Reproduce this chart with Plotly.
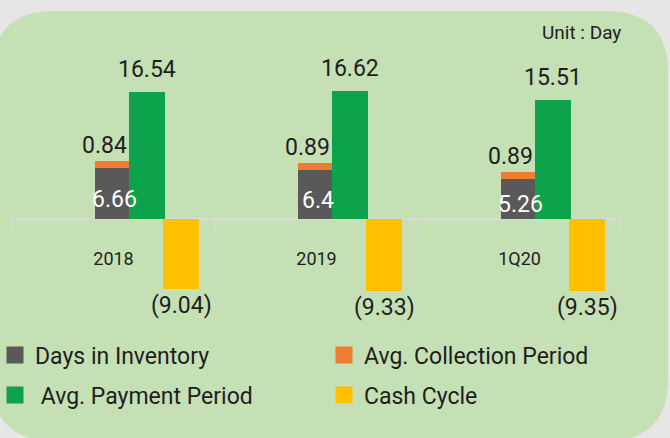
import plotly.graph_objects as go

categories = ['2018', '2019', '1Q20']
days_inventory = [6.66, 6.4, 5.26]
collection_period = [0.84, 0.89, 0.89]
payment_period = [16.54, 16.62, 15.51]
cash_cycle = [-9.04, -9.33, -9.35]

series_names = ['Days in Inventory', 'Avg. Collection Period', ' Avg. Payment Period', 'Cash Cycle']
series_colors = ['#595959', '#ed7d31', '#0ca34b', '#ffc000']
legend_ids = ['legend', 'legend', 'legend2', 'legend2']

W, H = 670, 438
FONT = 'Roboto, "Open Sans", sans-serif'
TXT = '#1e1e1e'

fig = go.Figure()
fig.add_bar(x=categories, y=days_inventory, name=series_names[0], showlegend=False,
            marker=dict(color=series_colors[0], line_width=0), width=0.168, offset=-0.091)
fig.add_bar(x=categories, y=collection_period, base=days_inventory, name=series_names[1],
            showlegend=False,
            marker=dict(color=series_colors[1], line_width=0), width=0.168, offset=-0.091)
fig.add_bar(x=categories, y=payment_period, name=series_names[2], showlegend=False,
            marker=dict(color=series_colors[2], line_width=0), width=0.177, offset=0.077)
fig.add_bar(x=categories, y=cash_cycle, name=series_names[3], showlegend=False,
            marker=dict(color=series_colors[3], line_width=0), width=0.177, offset=0.244)

# legend entries (bigger square swatches)
for nm, colr, lg in zip(series_names, series_colors, legend_ids):
    fig.add_bar(x=[None], y=[None], name=nm, legend=lg, hoverinfo='skip',
                marker=dict(color=colr, line=dict(color=colr, width=6)))


def fmt(v):
    return f'({abs(v):.2f})' if v < 0 else f'{v:g}'


LBL = 23
ann = []
for i, c in enumerate(categories):
    inv, col, pay, cash = days_inventory[i], collection_period[i], payment_period[i], cash_cycle[i]
    ann.append(dict(x=i, y=pay, text=fmt(pay), xshift=33, yanchor='bottom', yshift=7,
                    showarrow=False, font=dict(size=LBL, color=TXT, family=FONT)))
    ann.append(dict(x=i, y=inv + col, text=fmt(col), xshift=-9, yanchor='bottom', yshift=0,
                    showarrow=False, font=dict(size=LBL, color=TXT, family=FONT)))
    ann.append(dict(x=i, y=inv / 2, text=fmt(inv), xshift=1, yanchor='middle', yshift=-6,
                    showarrow=False, font=dict(size=LBL, color='white', family=FONT)))
    ann.append(dict(x=i, y=cash, text=fmt(cash), xshift=68, yanchor='top', yshift=-1,
                    showarrow=False, font=dict(size=LBL, color=TXT, family=FONT)))

ann.append(dict(xref='paper', yref='paper', x=581 / W, y=1 - 32 / H, text='Unit : Day',
                showarrow=False, xanchor='center', yanchor='middle',
                font=dict(size=19, color=TXT, family=FONT)))


def rounded_path(x0, y0, x1, y1, r):
    # pixel values -> paper coords
    px = lambda v: v / W
    py = lambda v: 1 - v / H
    return (f'M {px(x0 + r)},{py(y0)} L {px(x1 - r)},{py(y0)} '
            f'Q {px(x1)},{py(y0)} {px(x1)},{py(y0 + r)} '
            f'L {px(x1)},{py(y1 - r)} Q {px(x1)},{py(y1)} {px(x1 - r)},{py(y1)} '
            f'L {px(x0 + r)},{py(y1)} Q {px(x0)},{py(y1)} {px(x0)},{py(y1 - r)} '
            f'L {px(x0)},{py(y0 + r)} Q {px(x0)},{py(y0)} {px(x0 + r)},{py(y0)} Z')


PX_PER_UNIT = 7.7
ymax = 219 / PX_PER_UNIT
ymin = -(H - 219) / PX_PER_UNIT

legend_common = dict(orientation='h', x=0, xanchor='left', yanchor='middle',
                     indentation=-5,
                     entrywidth=289, entrywidthmode='pixels', bgcolor='rgba(0,0,0,0)',
                     font=dict(size=23, color=TXT, family=FONT))

fig.update_layout(
    width=W, height=H,
    margin=dict(l=0, r=0, t=0, b=0, autoexpand=False),
    paper_bgcolor='#e6e6e6',
    plot_bgcolor='rgba(0,0,0,0)',
    barmode='overlay',
    bargap=0,
    showlegend=True,
    font=dict(family=FONT, color=TXT),
    xaxis=dict(domain=[12 / W, 621 / W], range=[-0.5, 2.5], type='category',
               anchor='free', position=1 - 219 / H, automargin=False,
               showline=True, linecolor='#d9d9d9', linewidth=2,
               ticks='outside', tickson='boundaries', ticklen=9, tickwidth=2,
               tickcolor='#d9d9d9', ticklabelstandoff=23,
               tickfont=dict(size=18, color=TXT, family=FONT),
               showgrid=False, zeroline=False, layer='below traces', fixedrange=True),
    yaxis=dict(domain=[0, 1], range=[ymin, ymax], visible=False, fixedrange=True),
    legend=dict(legend_common, y=1 - 355 / H),
    legend2=dict(legend_common, y=1 - 395 / H),
    annotations=ann,
    shapes=[dict(type='path', xref='paper', yref='paper', layer='below',
                 path=rounded_path(-8, 11, 668, 441, 62),
                 fillcolor='#c5e0b4', line_width=0)],
)

fig.write_html('out.html', config=dict(displayModeBar=False),
               post_script="document.body.style.margin='0';document.body.style.overflow='hidden';")
